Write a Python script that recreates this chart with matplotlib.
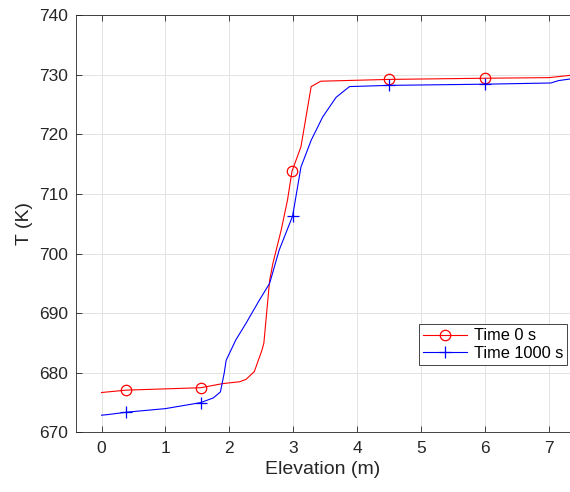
import numpy as np
import matplotlib
matplotlib.use("Agg")
import matplotlib.pyplot as plt

plt.rcParams['font.family'] = ['Liberation Sans', 'DejaVu Sans']

# Temperature profiles
elev_t0 = [0, 0.39, 1.55, 1.9, 2.16, 2.26, 2.39, 2.51, 2.54, 2.63, 2.68,
           2.81, 2.91, 2.98, 3.12, 3.28, 3.43, 4.5, 6.0, 7.0, 7.35]
temp_t0 = [676.7, 677.1, 677.5, 678.2, 678.5, 678.9, 680.2, 683.8, 685.0, 695.5, 698.3,
           703.9, 709.0, 713.8, 717.9, 728.0, 728.9, 729.2, 729.4, 729.5, 729.9]
marks_t0 = [1, 2, 13, 17, 18]

elev_t1000 = [0, 0.1, 0.39, 1.0, 1.55, 1.75, 1.86, 1.92, 1.95, 2.1, 2.26, 2.47, 2.63,
              2.78, 2.99, 3.12, 3.28, 3.46, 3.67, 3.88, 4.5, 6.0, 7.03, 7.15, 7.35]
temp_t1000 = [672.9, 673.0, 673.4, 674.0, 675.0, 675.8, 676.8, 680.0, 682.1, 685.5, 688.3,
              692.2, 695.0, 700.6, 706.3, 714.5, 719.0, 722.9, 726.2, 728.0, 728.2, 728.4,
              728.6, 729.0, 729.3]
marks_t1000 = [2, 4, 14, 20, 21]

axis_col = '#262626'

fig = plt.figure(figsize=(5.7, 4.92), dpi=100)
ax = fig.add_axes([0.1333, 0.121, 0.8667, 0.8485])

ax.plot(elev_t0, temp_t0, color='r', lw=0.8, marker='o', markevery=marks_t0,
        markersize=7.5, markerfacecolor='none', markeredgewidth=0.9, label='Time 0 s')
ax.plot(elev_t1000, temp_t1000, color='b', lw=0.8, marker='+', markevery=marks_t1000,
        markersize=8, markeredgewidth=0.9, label='Time 1000 s')

ax.set_xlim(-0.4, 7.33)
ax.set_ylim(670, 740)
ax.set_xticks(np.arange(0, 8, 1))
ax.set_yticks(np.arange(670, 741, 10))
ax.grid(True, color='#e3e3e3', lw=0.7)
ax.set_axisbelow(True)

ax.tick_params(direction='in', top=True, right=False, length=4, width=0.6,
               colors=axis_col, labelsize=12.5, pad=6)
for side in ['left', 'bottom', 'top']:
    ax.spines[side].set_color(axis_col)
    ax.spines[side].set_linewidth(0.6)
ax.spines['right'].set_visible(False)

ax.set_xlabel('Elevation (m)', fontsize=14, color=axis_col, labelpad=4)
ax.set_ylabel('T (K)', fontsize=14, color=axis_col, labelpad=4)

leg = ax.legend(loc='lower right', bbox_to_anchor=(0.994, 0.162), fontsize=11.8,
                fancybox=False, framealpha=1, edgecolor=axis_col,
                handlelength=2.7, borderpad=0.25, labelspacing=0.15,
                handletextpad=0.4, borderaxespad=0)
leg.get_frame().set_linewidth(0.6)

fig.savefig('out.png', dpi=100)
